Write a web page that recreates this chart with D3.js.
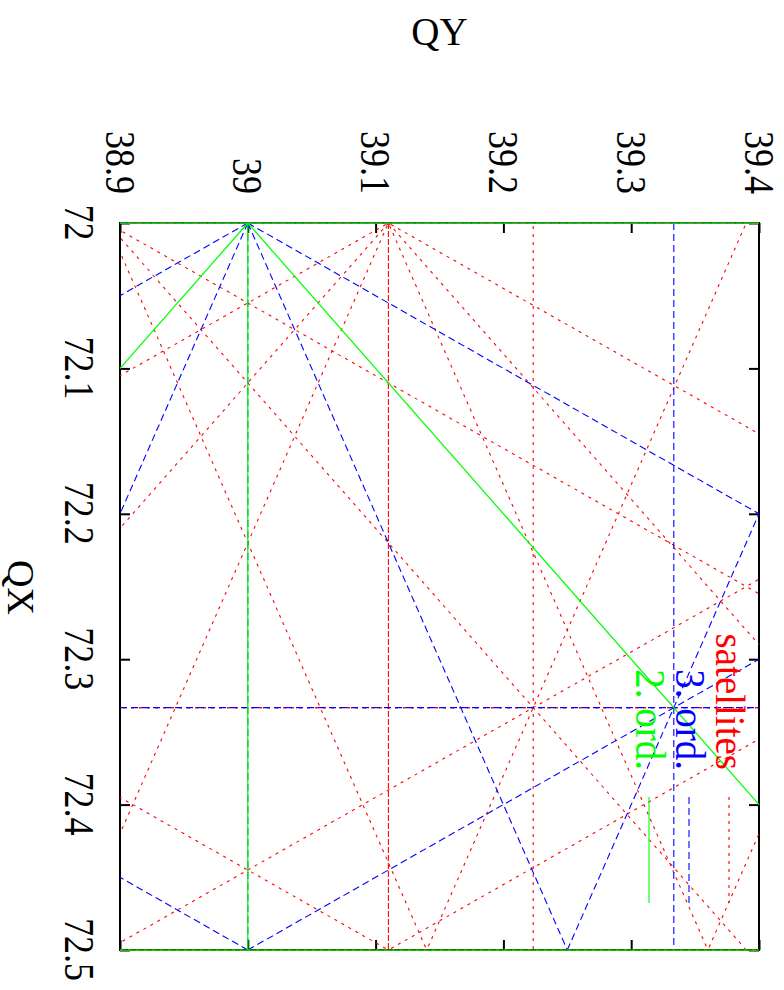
<!DOCTYPE html>
<html>
<head>
<meta charset="utf-8">
<script src="https://cdn.jsdelivr.net/npm/d3@7"></script>
<style>
  body { margin: 0; background: #fff; }
  svg { display: block; }
</style>
</head>
<body>
<svg id="chart" width="784" height="990"></svg>
<script>
// Tune diagram: resonance lines m*QX + n*QY = p, drawn with QY across and QX down.
const qxDomain = [72, 72.5];
const qyDomain = [38.9, 39.4];
const qxTicks = [72, 72.1, 72.2, 72.3, 72.4, 72.5];
const qyTicks = [38.9, 39, 39.1, 39.2, 39.3, 39.4];

// [m, n, p]
const secondOrder = [[2, 0, 144], [2, 0, 145], [0, 2, 78], [1, 1, 111], [1, -1, 33]];
const thirdOrder = [
  [3, 0, 216], [3, 0, 217], [0, 3, 117], [0, 3, 118],
  [2, 1, 183], [2, 1, 184], [2, -1, 105], [2, -1, 106],
  [1, 2, 150], [1, 2, 151], [1, -2, -6]
];
// synchrotron satellites (QY shifted by +/- 0.11)
const satellites2 = [
  [2, 0, 144], [2, 0, 144], [2, 0, 145], [2, 0, 145],
  [0, 2, 78.22], [1, 1, 111.11], [1, -1, 33.11], [1, -1, 32.89]
];
const satellites3 = [
  [3, 0, 216], [3, 0, 216], [3, 0, 217], [3, 0, 217],
  [0, 3, 117.33], [0, 3, 117.67],
  [2, 1, 183.11], [2, 1, 183.89], [2, 1, 184.11],
  [2, -1, 105.11], [2, -1, 104.89], [2, -1, 105.89],
  [1, 2, 150.22], [1, 2, 150.78], [1, 2, 151.22],
  [1, -2, -5.78], [1, -2, -6.22]
];
const legendLabels = ["satellites", "3. ord.", "2. ord."];

const serif = "'Liberation Serif', 'Times New Roman', Times, serif";
const svg = d3.select("#chart");

const plotL = 120, plotR = 759, plotT = 223, plotB = 950;
const sQY = d3.scaleLinear().domain(qyDomain).range([plotL, plotR]);
const sQX = d3.scaleLinear().domain(qxDomain).range([plotT, plotB]);

// frame
svg.append("rect")
  .attr("x", plotL).attr("y", plotT)
  .attr("width", plotR - plotL).attr("height", plotB - plotT)
  .attr("fill", "none").attr("stroke", "#000").attr("stroke-width", 2);

// ticks on all four sides, pointing inward
function styleAxis(g) {
  g.attr("font-family", serif).attr("color", "#000");
  g.select(".domain").remove();
  g.selectAll(".tick line").attr("stroke-width", 2);
}
const fmt = d3.format("~g");

const topAxis = svg.append("g").attr("transform", `translate(0,${plotT})`)
  .call(d3.axisTop(sQY).tickValues(qyTicks).tickSize(-10).tickSizeOuter(0).tickFormat(fmt))
  .call(styleAxis);
topAxis.selectAll(".tick text")
  .attr("x", null).attr("y", null).attr("dy", null)
  .attr("font-size", 36).attr("text-anchor", "end")
  .attr("transform", "translate(-15,-29) rotate(90) scale(1,1.15)");

const leftAxis = svg.append("g").attr("transform", `translate(${plotL},0)`)
  .call(d3.axisLeft(sQX).tickValues(qxTicks).tickSize(-10).tickSizeOuter(0).tickFormat(fmt))
  .call(styleAxis);
leftAxis.selectAll(".tick text")
  .attr("x", null).attr("y", null).attr("dy", null)
  .attr("font-size", 36).attr("text-anchor", "middle")
  .attr("transform", "translate(-55,-1) rotate(90) scale(1,1.15)");

svg.append("g").attr("transform", `translate(0,${plotB})`)
  .call(d3.axisBottom(sQY).tickValues(qyTicks).tickSize(-10).tickSizeOuter(0).tickFormat(""))
  .call(styleAxis);
svg.append("g").attr("transform", `translate(${plotR},0)`)
  .call(d3.axisRight(sQX).tickValues(qxTicks).tickSize(-10).tickSizeOuter(0).tickFormat(""))
  .call(styleAxis);

// clip an infinite resonance line to the tune window
function segment([m, n, p]) {
  const eps = 1e-9, pts = [];
  if (n !== 0) {
    for (const qx of qxDomain) {
      const qy = (p - m * qx) / n;
      if (qy >= qyDomain[0] - eps && qy <= qyDomain[1] + eps) pts.push({ qx, qy });
    }
  }
  if (m !== 0) {
    for (const qy of qyDomain) {
      const qx = (p - n * qy) / m;
      if (qx >= qxDomain[0] - eps && qx <= qxDomain[1] + eps) pts.push({ qx, qy });
    }
  }
  let best = null, bestD = 1e-6;
  for (let i = 0; i < pts.length; i++)
    for (let j = i + 1; j < pts.length; j++) {
      const d = Math.hypot(pts[i].qx - pts[j].qx, pts[i].qy - pts[j].qy);
      if (d > bestD) { bestD = d; best = [pts[i], pts[j]]; }
    }
  return best;
}

const line = d3.line().x(d => sQY(d.qy)).y(d => sQX(d.qx));

const styles = {
  sat:   { stroke: "#ff0000", dash: "3,5", width: 1.1 },
  third: { stroke: "#0000ff", dash: "7,4", width: 1.1 },
  second:{ stroke: "#00ff00", dash: null, width: 1.25 }
};

function drawLines(data, style, offset) {
  svg.append("g")
    .selectAll("path")
    .data(data.map(segment).filter(Boolean))
    .join("path")
    .attr("d", line)
    .attr("fill", "none")
    .attr("stroke", style.stroke)
    .attr("stroke-width", style.width)
    .attr("stroke-dasharray", style.dash)
    .attr("stroke-dashoffset", offset || 0);
}

drawLines(satellites2, styles.sat, 0);
drawLines(satellites3, styles.sat, 5);
drawLines(thirdOrder, styles.third, 0);
drawLines(secondOrder, styles.second, 0);

// axis titles
svg.append("text")
  .attr("x", (plotL + plotR) / 2).attr("y", 45)
  .attr("text-anchor", "middle")
  .attr("font-family", serif).attr("font-size", 39)
  .text("QY");
svg.append("text")
  .attr("transform", `translate(8,${(plotT + plotB) / 2 + 1}) rotate(90)`)
  .attr("text-anchor", "middle")
  .attr("font-family", serif).attr("font-size", 38)
  .text("QX");

// key
const keyStyles = [styles.sat, styles.third, styles.second];
const key = svg.append("g");
legendLabels.forEach((label, i) => {
  const bx = 716 - 40 * i;
  key.append("text")
    .attr("transform", `translate(${bx},770) rotate(90) scale(1,1.06)`)
    .attr("text-anchor", "end")
    .attr("font-family", serif).attr("font-size", 39)
    .attr("fill", keyStyles[i].stroke)
    .text(label);
  key.append("line")
    .attr("x1", bx + 13).attr("x2", bx + 13)
    .attr("y1", 797).attr("y2", 903)
    .attr("stroke", keyStyles[i].stroke)
    .attr("stroke-width", 1.1)
    .attr("stroke-dasharray", keyStyles[i].dash);
});
</script>
</body>
</html>
